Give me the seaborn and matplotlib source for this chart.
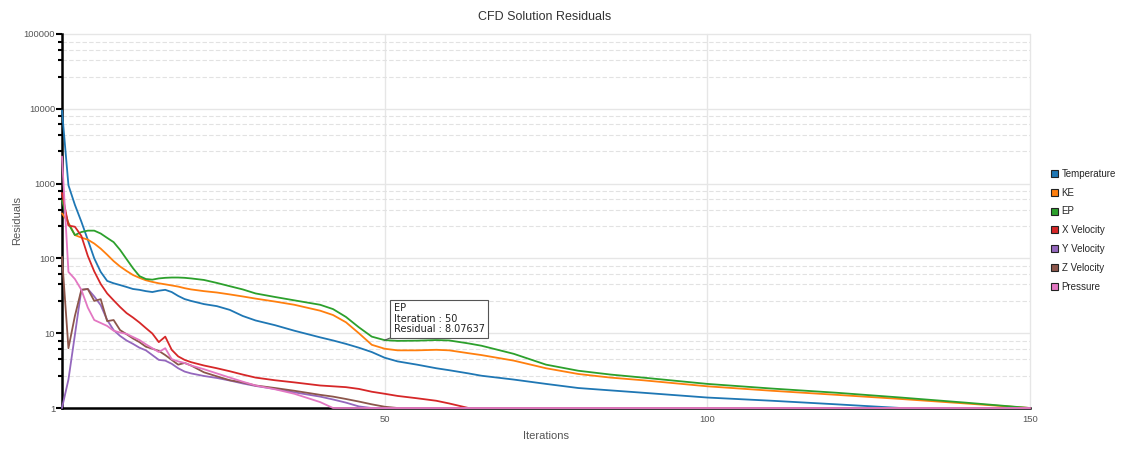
import numpy as np
import pandas as pd
import matplotlib
matplotlib.use("Agg")
import matplotlib.pyplot as plt
import matplotlib.ticker as mticker
from matplotlib.patches import Patch
import seaborn as sns

# ---------------- data ----------------
ITERATIONS = list(range(0, 21)) + [22, 24, 26, 28, 30, 33, 36, 40, 42, 44, 46, 48, 50,
                                   52, 55, 58, 60, 63, 65, 70, 75, 80, 85, 90, 100, 110,
                                   120, 130, 140, 150]

SERIES = ["Temperature", "KE", "EP", "X Velocity", "Y Velocity", "Z Velocity", "Pressure"]

temperature = [9500, 950, 520, 310, 177, 100, 66, 50, 46.5, 44, 41.5, 39, 38, 36.5, 35.5, 37, 38,
               35.5, 31.5, 28.6, 27,
               24.5, 23, 20.5, 17, 14.8, 12.8, 10.8, 8.8, 8.0, 7.2, 6.4, 5.6, 4.7, 4.2, 3.8, 3.4,
               3.2, 2.9, 2.7, 2.4, 2.1, 1.85, 1.72, 1.6, 1.38, 1.25, 1.12, 1.0, 1.0, 1.0]
ke = [400, 300, 205, 190, 178, 158, 135, 112, 92, 78, 68, 60, 55, 51, 48.5, 46.5, 45, 43.5, 42, 40,
      38.5,
      36.5, 35, 33, 31, 29, 26.5, 24, 20, 17.5, 14, 10, 7.0, 6.2, 5.9, 5.9, 6.0, 5.9, 5.4, 5.1, 4.3,
      3.4, 2.85, 2.55, 2.35, 1.95, 1.7, 1.5, 1.32, 1.15, 1.0]
ep = [600, 290, 205, 225, 235, 235, 215, 188, 165, 130, 98, 74, 58, 53, 52, 54, 55, 55.5, 55.5, 55,
      54,
      51.5, 47, 42.5, 38.5, 34, 30.5, 27.5, 24, 21, 16.5, 12, 9.0, 8.07637, 7.9, 7.95, 8.1, 8.0, 7.3,
      6.8, 5.3, 3.8, 3.15, 2.8, 2.55, 2.1, 1.82, 1.6, 1.38, 1.18, 1.0]
x_velocity = [750, 275, 265, 200, 108, 67, 45.5, 34, 27.5, 22.4, 18.6, 16.2, 13.9, 11.7, 9.9, 7.6,
              9.0, 6.0, 4.9, 4.4, 4.1,
              3.7, 3.4, 3.1, 2.8, 2.55, 2.35, 2.2, 2.0, 1.95, 1.9, 1.8, 1.65, 1.55, 1.45, 1.35,
              1.25, 1.15, 1.0, 1.0, 1.0, 1.0, 1.0, 1.0, 1.0, 1.0, 1.0, 1.0, 1.0, 1.0, 1.0]
y_velocity = [1, 2.4, 9.5, 38, 39, 31, 23.7, 15, 11, 9.2, 8.0, 7.2, 6.4, 5.9, 5.1, 4.4, 4.3, 3.9,
              3.4, 3.07, 2.9,
              2.68, 2.52, 2.33, 2.13, 1.97, 1.8, 1.62, 1.42, 1.3, 1.18, 1.05, 1.0, 1.0, 1.0, 1.0,
              1.0, 1.0, 1.0, 1.0, 1.0, 1.0, 1.0, 1.0, 1.0, 1.0, 1.0, 1.0, 1.0, 1.0, 1.0]
z_velocity = [105, 6.3, 17, 38, 39, 27, 28.5, 14.5, 15, 11, 9.7, 8.5, 7.6, 6.6, 6.2, 5.8, 5.1, 4.4,
              3.8, 4.0, 3.7,
              3.0, 2.65, 2.35, 2.2, 2.0, 1.85, 1.7, 1.5, 1.42, 1.32, 1.22, 1.12, 1.04, 1.0, 1.0,
              1.0, 1.0, 1.0, 1.0, 1.0, 1.0, 1.0, 1.0, 1.0, 1.0, 1.0, 1.0, 1.0, 1.0, 1.0]
pressure = [2300, 66, 53, 38, 22, 15, 13.7, 12.5, 10.8, 10.2, 9.8, 8.9, 8.1, 7.1, 6.3, 5.6, 6.3,
            4.5, 4.2, 4.0, 3.7,
            3.3, 2.9, 2.55, 2.25, 2.0, 1.78, 1.55, 1.2, 1.0, 1.0, 1.0, 1.0, 1.0, 1.0, 1.0, 1.0,
            1.0, 1.0, 1.0, 1.0, 1.0, 1.0, 1.0, 1.0, 1.0, 1.0, 1.0, 1.0, 1.0, 1.0]

Y_TICKS = [1, 10, 100, 1000, 10000, 100000]
X_TICKS = [50, 100, 150]
TIP_SERIES = "EP"
TIP_ITER = 50

COLORS = ["#1f77b4", "#ff7f0e", "#2ca02c", "#d62728", "#9467bd", "#8c564b", "#e377c2"]
MINOR_SUBS = [2.7, 4.5, 6.2, 7.9]

values = [temperature, ke, ep, x_velocity, y_velocity, z_velocity, pressure]
frames = []
for name, vals in zip(SERIES, values):
    frames.append(pd.DataFrame({"Iteration": ITERATIONS, "Residual": vals, "Series": name}))
df = pd.concat(frames, ignore_index=True)

# ---------------- plot ----------------
sns.set_theme(style="white")
plt.rcParams['font.family'] = ['Liberation Sans', 'DejaVu Sans']

fig = plt.figure(figsize=(11.23, 4.49), dpi=100)
ax = fig.add_axes([0.0552, 0.0913, 0.862, 0.833])

sns.lineplot(data=df, x="Iteration", y="Residual", hue="Series", hue_order=SERIES,
             palette=COLORS, estimator=None, sort=False, linewidth=1.3, legend=False, ax=ax)
for ln in ax.lines:
    ln.set_clip_on(False)
    ln.set_zorder(3)

ax.set_yscale("log")
ax.set_ylim(Y_TICKS[0], Y_TICKS[-1])
ax.set_xlim(0, 150)

minor_pos = [s * t for t in Y_TICKS[:-1] for s in MINOR_SUBS]
ax.yaxis.set_major_locator(mticker.FixedLocator(Y_TICKS))
ax.yaxis.set_major_formatter(mticker.FuncFormatter(lambda v, p: f"{int(round(v))}"))
ax.yaxis.set_minor_locator(mticker.FixedLocator(minor_pos))
ax.yaxis.set_minor_formatter(mticker.NullFormatter())
ax.set_xticks(X_TICKS)

ax.grid(True, which="major", axis="y", color="#e6e6e6", linewidth=1.0, linestyle="-")
ax.grid(True, which="minor", axis="y", color="#e2e2e2", linewidth=0.8, linestyle=(0, (4, 2)))
ax.grid(True, which="major", axis="x", color="#e6e6e6", linewidth=1.0, linestyle="-")
ax.set_axisbelow(True)
for gl in ax.get_xgridlines() + ax.get_ygridlines():
    gl.set_clip_on(False)

for s in ["top", "right"]:
    ax.spines[s].set_visible(False)
for s in ["left", "bottom"]:
    ax.spines[s].set_color("black")
    ax.spines[s].set_linewidth(1.8)

ax.tick_params(axis="y", which="major", length=4, width=1.5, color="black",
               labelsize=6.8, labelcolor="#555555", pad=1, left=True)
ax.tick_params(axis="y", which="minor", length=3, width=1.5, color="black", left=True)
ax.tick_params(axis="x", which="major", length=0, labelsize=6.8, labelcolor="#555555", pad=5)

ax.set_xlabel("Iterations", fontsize=8, color="#555555", labelpad=5)
ax.set_ylabel("Residuals", fontsize=8, color="#555555", labelpad=1)

fig.text(545 / 1123, 1 - 17 / 449, "CFD Solution Residuals", ha="center", va="center",
         fontsize=9, color="#333333")

# tooltip
tip_idx = SERIES.index(TIP_SERIES)
tip_val = values[tip_idx][ITERATIONS.index(TIP_ITER)]
ax.annotate(f"{TIP_SERIES}\nIteration : {TIP_ITER}\nResidual : {tip_val}",
            xy=(TIP_ITER, tip_val), xytext=(9, 6), textcoords="offset pixels",
            ha="left", va="bottom", fontsize=7.0, family=["DejaVu Sans"], color="#222222",
            linespacing=1.05,
            bbox=dict(boxstyle="square,pad=0.35", fc="white", ec="#555555", lw=0.8),
            arrowprops=dict(arrowstyle="-", color="#555555", lw=0.8, shrinkA=0, shrinkB=0),
            zorder=6)

handles = [Patch(facecolor=c, edgecolor="#222222", linewidth=0.8) for c in COLORS]
fig.legend(handles, SERIES, loc="upper left", bbox_to_anchor=(1051 / 1123, 1 - 169 / 449),
           frameon=False, fontsize=7, handlelength=0.7, handleheight=0.7,
           handletextpad=0.4, labelspacing=0.9, borderaxespad=0, borderpad=0)

fig.savefig("out.png", dpi=100)
